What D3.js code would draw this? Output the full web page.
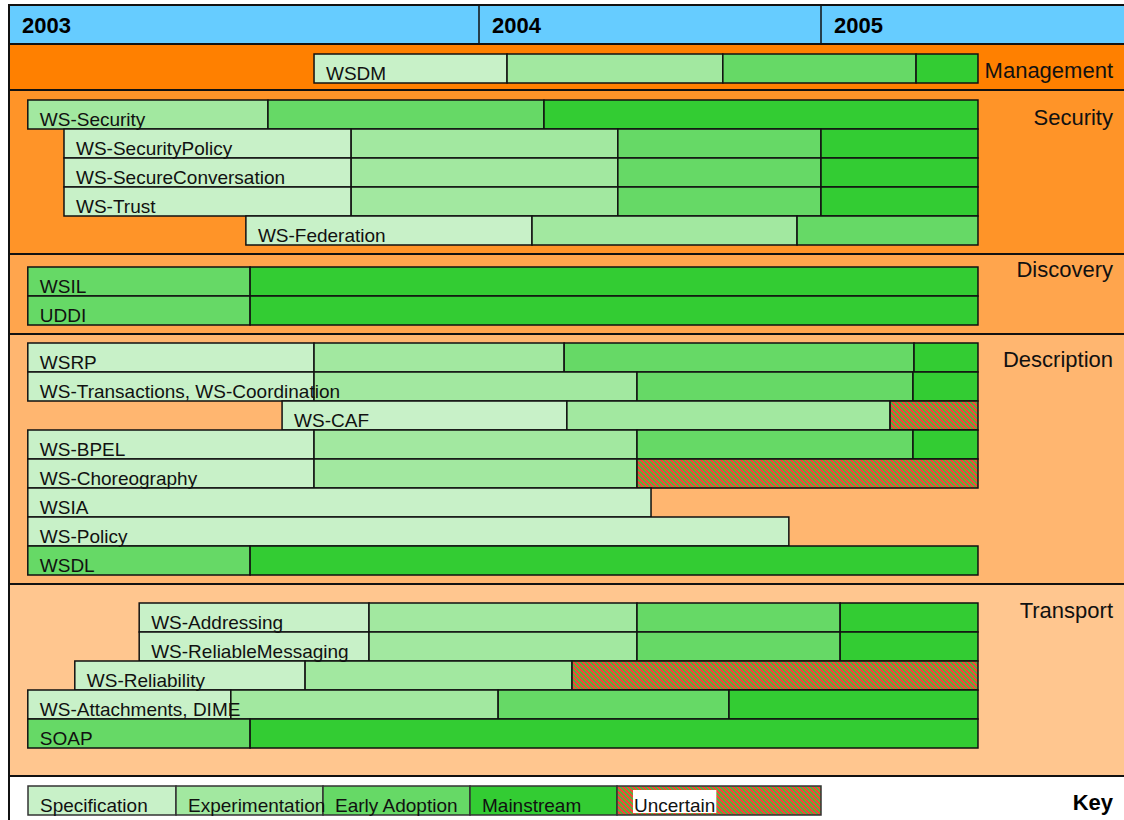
<!DOCTYPE html>
<html><head><meta charset="utf-8">
<script src="https://cdn.jsdelivr.net/npm/d3@7"></script>
<style>html,body{margin:0;padding:0;background:#fff;}svg{display:block;font-family:"Liberation Sans",Arial,sans-serif;}</style>
</head><body>
<svg id="c" width="1124" height="820"></svg>
<script>
// ---- data ----
const years = [2003, 2004, 2005];
const stages = ["Specification", "Experimentation", "Early Adoption", "Mainstream", "Uncertain"];
const sections = ["Management", "Security", "Discovery", "Description", "Transport"];
const items = [
  "WSDM",
  "WS-Security", "WS-SecurityPolicy", "WS-SecureConversation", "WS-Trust", "WS-Federation",
  "WSIL", "UDDI",
  "WSRP", "WS-Transactions, WS-Coordination", "WS-CAF", "WS-BPEL", "WS-Choreography", "WSIA", "WS-Policy", "WSDL",
  "WS-Addressing", "WS-ReliableMessaging", "WS-Reliability", "WS-Attachments, DIME", "SOAP"
];
const itemSection = [0, 1,1,1,1,1, 2,2, 3,3,3,3,3,3,3,3, 4,4,4,4,4];
// stage boundaries (decimal years) and stage index of each segment
const itemBounds = [
  [2003.649, 2004.082, 2004.713, 2005.278, 2005.459],
  [2003.040, 2003.551, 2004.190, 2005.459],
  [2003.117, 2003.728, 2004.406, 2005.000, 2005.459],
  [2003.117, 2003.728, 2004.406, 2005.000, 2005.459],
  [2003.117, 2003.728, 2004.406, 2005.000, 2005.459],
  [2003.504, 2004.155, 2004.930, 2005.459],
  [2003.040, 2003.513, 2005.459],
  [2003.040, 2003.513, 2005.459],
  [2003.040, 2003.649, 2004.249, 2005.272, 2005.459],
  [2003.040, 2003.649, 2004.462, 2005.269, 2005.459],
  [2003.581, 2004.257, 2005.202, 2005.459],
  [2003.040, 2003.649, 2004.462, 2005.269, 2005.459],
  [2003.040, 2003.649, 2004.462, 2005.459],
  [2003.040, 2004.503],
  [2003.040, 2004.906],
  [2003.040, 2003.513, 2005.459],
  [2003.277, 2003.766, 2004.462, 2005.056, 2005.459],
  [2003.277, 2003.766, 2004.462, 2005.056, 2005.459],
  [2003.140, 2003.630, 2004.272, 2005.459],
  [2003.040, 2003.472, 2004.056, 2004.731, 2005.459],
  [2003.040, 2003.513, 2005.459]
];
const itemStages = [
  [0,1,2,3],
  [1,2,3], [0,1,2,3], [0,1,2,3], [0,1,2,3], [0,1,2],
  [2,3], [2,3],
  [0,1,2,3], [0,1,2,3], [0,1,4], [0,1,2,3], [0,1,4], [0], [0], [2,3],
  [0,1,2,3], [0,1,2,3], [0,1,4], [0,1,2,3], [2,3]
];

// ---- styles / layout ----
const stageColors = ["#C8F1C8", "#A2E8A0", "#66D966", "#33CC33", "url(#unc)"];
const sectionColors = ["#FF8000", "#FF9428", "#FFA54D", "#FFB670", "#FFC68F"];
const sectionPadTop = [10, 10, 13, 9, 19];
const sectionPadBottom = [7, 9, 9, 9, 28];
const sectionLabelDy = [34, 35, 23, 33, 34];
const rowH = 29;
const headerTop = 5, headerBottom = 44, frameLeft = 9, W = 1124, H = 820;

const svg = d3.select("#c");
const defs = svg.append("defs");
const P = 5;
const pat = defs.append("pattern").attr("id", "unc").attr("width", P).attr("height", P)
  .attr("patternUnits", "userSpaceOnUse");
pat.append("rect").attr("width", P).attr("height", P).attr("fill", "#46BE3E").attr("shape-rendering", "crispEdges");
const redCells = [];
for (let r = 0; r < P; r++) { for (let k = 0; k < 3; k++) redCells.push([(r + k) % P, r]); }
pat.selectAll("rect.px").data(redCells).join("rect").attr("class", "px")
  .attr("x", d => d[0]).attr("y", d => d[1]).attr("width", 1).attr("height", 1)
  .attr("fill", "#EE4A38").attr("shape-rendering", "crispEdges");

const x = d3.scaleLinear().domain([2003, 2004, 2005, 2006]).range([9, 479, 821, 1163]);

// section geometry
const counts = sections.map((s, i) => itemSection.filter(d => d === i).length);
const secTop = [], secH = [];
let cy = headerBottom;
sections.forEach((s, i) => {
  secTop.push(cy);
  const h = sectionPadTop[i] + counts[i] * rowH + sectionPadBottom[i];
  secH.push(h);
  cy += h;
});
const keyTop = cy;

// backgrounds
svg.selectAll("rect.sec").data(sections).join("rect").attr("class", "sec")
  .attr("x", frameLeft).attr("y", (d, i) => secTop[i]).attr("width", W - frameLeft + 2)
  .attr("height", (d, i) => secH[i]).attr("fill", (d, i) => sectionColors[i]);
svg.append("rect").attr("x", frameLeft).attr("y", keyTop).attr("width", W).attr("height", H - keyTop + 5).attr("fill", "#fff");

// header
svg.append("rect").attr("x", frameLeft).attr("y", headerTop).attr("width", W - frameLeft + 5)
  .attr("height", headerBottom - headerTop).attr("fill", "#66CCFF");
svg.selectAll("line.yr").data(years.slice(1)).join("line").attr("class", "yr")
  .attr("x1", d => x(d)).attr("x2", d => x(d)).attr("y1", headerTop).attr("y2", headerBottom)
  .attr("stroke", "#111").attr("stroke-width", 1.5);
svg.selectAll("text.yr").data(years).join("text").attr("class", "yr")
  .attr("x", d => x(d) + 13).attr("y", 33).attr("font-size", 22).attr("font-weight", "bold")
  .attr("fill", "#000").text(d => d);

// separators
const seps = [headerTop, headerBottom].concat(secTop.slice(1), [keyTop]);
svg.selectAll("line.sep").data(seps).join("line").attr("class", "sep")
  .attr("x1", frameLeft).attr("x2", W).attr("y1", d => d).attr("y2", d => d)
  .attr("stroke", "#111").attr("stroke-width", 2);
svg.append("line").attr("x1", frameLeft).attr("x2", frameLeft).attr("y1", headerTop - 1).attr("y2", H)
  .attr("stroke", "#111").attr("stroke-width", 2);

// section labels
svg.selectAll("text.sl").data(sections).join("text").attr("class", "sl")
  .attr("x", 1113).attr("y", (d, i) => secTop[i] + sectionLabelDy[i]).attr("text-anchor", "end")
  .attr("font-size", 22).attr("fill", "#111").text(d => d);

// rows
const rowIndex = items.map((d, i) => itemSection.slice(0, i).filter(s => s === itemSection[i]).length);
const rowY = items.map((d, i) => secTop[itemSection[i]] + sectionPadTop[itemSection[i]] + rowIndex[i] * rowH);

const segs = [];
items.forEach((name, i) => {
  itemStages[i].forEach((st, j) => {
    segs.push({ i, st, x0: itemBounds[i][j], x1: itemBounds[i][j + 1] });
  });
});
svg.selectAll("rect.seg").data(segs).join("rect").attr("class", "seg")
  .attr("x", d => x(d.x0)).attr("y", d => rowY[d.i])
  .attr("width", d => x(d.x1) - x(d.x0)).attr("height", rowH)
  .attr("fill", d => stageColors[d.st]).attr("stroke", "#111").attr("stroke-width", 1.5);
svg.selectAll("text.lab").data(items).join("text").attr("class", "lab")
  .attr("x", (d, i) => x(itemBounds[i][0]) + 12).attr("y", (d, i) => rowY[i] + rowH - 3)
  .attr("font-size", 19).attr("fill", "#111").text(d => d);

// key
const keyWidths = [148, 147, 147, 147, 204];
const keyX = keyWidths.map((w, i) => 28 + d3.sum(keyWidths.slice(0, i)));
const kTop = keyTop + 10;
svg.selectAll("rect.key").data(stages).join("rect").attr("class", "key")
  .attr("x", (d, i) => keyX[i]).attr("y", kTop).attr("width", (d, i) => keyWidths[i]).attr("height", rowH)
  .attr("fill", (d, i) => stageColors[i]).attr("stroke", "#333").attr("stroke-width", 1.5);
const ktext = svg.selectAll("text.key").data(stages).join("text").attr("class", "key")
  .attr("x", (d, i) => keyX[i] + (i === 4 ? 17 : 12)).attr("y", kTop + rowH - 3)
  .attr("font-size", 19).attr("fill", "#111").text(d => d);
// white background behind "Uncertain"
const un = ktext.filter((d, i) => i === 4).node().getBBox();
svg.insert("rect", "text.key").attr("x", un.x - 1).attr("y", kTop + 4).attr("width", un.width + 2)
  .attr("height", rowH - 6).attr("fill", "#fff");
svg.append("text").attr("x", 1113).attr("y", keyTop + 34).attr("text-anchor", "end")
  .attr("font-size", 22).attr("font-weight", "bold").attr("fill", "#000").text("Key");
</script>
</body></html>
